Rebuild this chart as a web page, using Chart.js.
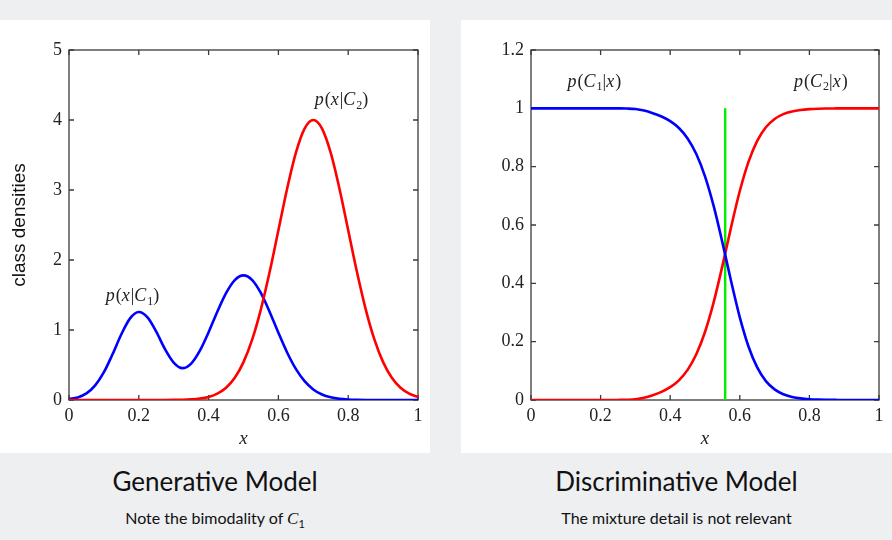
<!DOCTYPE html>
<html>
<head>
<meta charset="utf-8">
<script src="https://cdn.jsdelivr.net/npm/chart.js@4.4.1/dist/chart.umd.min.js"></script>
<style>
  body { margin: 0; width: 892px; height: 540px; background: #eeeff1; position: relative; overflow: hidden; }
  .panel { position: absolute; top: 20px; height: 433px; background: #fff; }
  .title { position: absolute; top: 466px; font-family: Lato, sans-serif; font-size: 26px; line-height: 30px; color: #111; text-align: center; }
  .note { position: absolute; top: 508px; font-family: Lato, sans-serif; font-size: 16px; line-height: 20px; color: #111; text-align: center; }
  .cal { font-family: "Liberation Serif", serif; font-style: italic; font-size: 17px; }
  sub { font-size: 11px; }
</style>
</head>
<body>
<div class="panel" style="left:0;width:430px"><canvas id="genChart" width="430" height="433"></canvas></div>
<div class="panel" style="left:461px;width:431px"><canvas id="discChart" width="431" height="433"></canvas></div>
<div class="title" style="left:0;width:430px">Generative Model</div>
<div class="title" style="left:461px;width:431px">Discriminative Model</div>
<div class="note" style="left:0;width:430px">Note the bimodality of <span class="cal">C</span><sub>1</sub></div>
<div class="note" style="left:461px;width:431px">The mixture detail is not relevant</div>

<script>
const xs = [0, 0.025, 0.05, 0.075, 0.1, 0.125, 0.15, 0.175, 0.2, 0.225,
            0.25, 0.275, 0.3, 0.325, 0.35, 0.375, 0.4, 0.425, 0.45, 0.475,
            0.5, 0.525, 0.55, 0.575, 0.6, 0.625, 0.65, 0.675, 0.7, 0.725,
            0.75, 0.775, 0.8, 0.825, 0.85, 0.875, 0.9, 0.925, 0.95, 0.975, 1];

// left plot: class densities
const densC1 = [0.013, 0.037, 0.094, 0.208, 0.397, 0.656, 0.939, 1.166, 1.257, 1.18,
                0.976, 0.728, 0.535, 0.455, 0.52, 0.705, 0.968, 1.262, 1.527, 1.713,
                1.78, 1.713, 1.526, 1.258, 0.96, 0.679, 0.444, 0.269, 0.151, 0.078,
                0.038, 0.017, 0.007, 0.003, 0.001, 0, 0, 0, 0, 0, 0];
const densC2 = [0, 0, 0, 0, 0, 0, 0, 0, 0, 0,
                0.0002, 0.0005, 0.0013, 0.0035, 0.0088, 0.0203, 0.0444, 0.0912, 0.1757, 0.3184,
                0.5413, 0.865, 1.299, 1.831, 2.426, 3.019, 3.53, 3.877, 4.0, 3.877,
                3.53, 3.019, 2.426, 1.831, 1.299, 0.865, 0.541, 0.318, 0.176, 0.091, 0.044];

// right plot: posteriors
const postC1 = [1, 1, 1, 1, 1, 1, 1, 1, 1, 1,
                0.9998, 0.9993, 0.9976, 0.9924, 0.9834, 0.972, 0.9561, 0.9326, 0.8968, 0.8432,
                0.7668, 0.6645, 0.5402, 0.4073, 0.2835, 0.1836, 0.1117, 0.0649, 0.0364, 0.0197,
                0.0106, 0.0055, 0.0028, 0.0014, 0.0007, 0.0003, 0, 0, 0, 0, 0];
const postC2 = [0, 0, 0, 0, 0, 0, 0, 0, 0, 0,
                0.0002, 0.0007, 0.0024, 0.0076, 0.0166, 0.028, 0.0439, 0.0674, 0.1032, 0.1568,
                0.2332, 0.3355, 0.4598, 0.5927, 0.7165, 0.8164, 0.8883, 0.9351, 0.9636, 0.9803,
                0.9894, 0.9945, 0.9972, 0.9986, 0.9993, 0.9997, 1, 1, 1, 1, 1];

// decision boundary
const boundaryX = [0.558, 0.558];
const boundaryY = [0, 1];

// tick labels
const xTicks = [0, 0.2, 0.4, 0.6, 0.8, 1];
const genYTicks = [0, 1, 2, 3, 4, 5];
const discYTicks = [0, 0.2, 0.4, 0.6, 0.8, 1, 1.2];

// curve labels, in data coordinates
const genLabels = [
  { x: 0.182, y: 1.49, parts: [['p', 'i'], ['(', 'n'], ['x', 'i'], ['|', 'n'], ['C', 'i'], ['1', 's'], [')', 'n']] },
  { x: 0.781, y: 4.29, parts: [['p', 'i'], ['(', 'n'], ['x', 'i'], ['|', 'n'], ['C', 'i'], ['2', 's'], [')', 'n']] }
];
const discLabels = [
  { x: 0.182, y: 1.094, parts: [['p', 'i'], ['(', 'n'], ['C', 'i'], ['1', 's'], ['|', 'n'], ['x', 'i'], [')', 'n']] },
  { x: 0.833, y: 1.094, parts: [['p', 'i'], ['(', 'n'], ['C', 'i'], ['2', 's'], ['|', 'n'], ['x', 'i'], [')', 'n']] }
];

const pts = (xv, yv) => xv.map((x, i) => ({ x: x, y: yv[i] }));

function drawMath(ctx, parts, cx, cy, size) {
  const fonts = {
    i: `italic ${size}px "Liberation Serif"`,
    n: `${size}px "Liberation Serif"`,
    s: `${Math.round(size * 0.68)}px "Liberation Serif"`
  };
  let w = 0;
  parts.forEach(p => { ctx.font = fonts[p[1]]; w += ctx.measureText(p[0]).width + (p[1] === 'i' ? 1 : 0); });
  let px = cx - w / 2;
  ctx.textBaseline = 'alphabetic';
  ctx.textAlign = 'left';
  parts.forEach(p => {
    ctx.font = fonts[p[1]];
    const dy = p[1] === 's' ? size * 0.18 : 0;
    ctx.fillText(p[0], px, cy + size * 0.32 + dy);
    px += ctx.measureText(p[0]).width + (p[1] === 'i' ? 1 : 0);
  });
}

// box frame with inward ticks, plus the curve labels
const framePlugin = {
  id: 'frame',
  beforeDatasetsDraw(chart) {
    const { ctx, chartArea: a, scales: { x, y } } = chart;
    ctx.save();
    ctx.strokeStyle = '#3a3a3a';
    ctx.lineWidth = 1.3;
    ctx.strokeRect(a.left, a.top, a.right - a.left, a.bottom - a.top);
    ctx.beginPath();
    x.ticks.forEach(t => {
      const px = x.getPixelForValue(t.value);
      ctx.moveTo(px, a.bottom); ctx.lineTo(px, a.bottom - 5);
      ctx.moveTo(px, a.top); ctx.lineTo(px, a.top + 5);
    });
    y.ticks.forEach(t => {
      const py = y.getPixelForValue(t.value);
      ctx.moveTo(a.left, py); ctx.lineTo(a.left + 5, py);
      ctx.moveTo(a.right, py); ctx.lineTo(a.right - 5, py);
    });
    ctx.stroke();
    ctx.restore();
  },
  afterDatasetsDraw(chart, args, opts) {
    const { ctx, scales: { x, y } } = chart;
    ctx.save();
    ctx.fillStyle = '#222';
    (opts.labels || []).forEach(l => drawMath(ctx, l.parts, x.getPixelForValue(l.x), y.getPixelForValue(l.y), 18));
    ctx.restore();
  }
};

const tickFont = { family: '"Liberation Serif", serif', size: 18 };

function makeOptions(yTicks, yMax, yTitle, leftW, rightPad, labels) {
  return {
    responsive: false,
    animation: false,
    layout: { padding: { left: 0, right: rightPad, top: 30, bottom: 0 } },
    plugins: { legend: { display: false }, tooltip: { enabled: false }, frame: { labels: labels } },
    elements: { point: { radius: 0 } },
    scales: {
      x: {
        type: 'linear', min: 0, max: 1,
        afterBuildTicks: s => { s.ticks = xTicks.map(v => ({ value: v })); },
        afterFit: s => { s.height = 53; },
        grid: { display: false, drawTicks: false },
        border: { display: false },
        ticks: { font: tickFont, color: '#222', padding: 5, maxRotation: 0, callback: v => String(v) },
        title: { display: true, text: 'x', color: '#222', padding: { top: 0, bottom: 3 },
                 font: { family: '"Liberation Serif", serif', size: 19, style: 'italic' } }
      },
      y: {
        type: 'linear', min: 0, max: yMax,
        afterBuildTicks: s => { s.ticks = yTicks.map(v => ({ value: v })); },
        afterFit: s => { s.width = leftW; },
        grid: { display: false, drawTicks: false },
        border: { display: false },
        ticks: { font: tickFont, color: '#222', padding: 7, callback: v => String(v) },
        title: { display: !!yTitle, text: yTitle, color: '#111', padding: { top: 8, bottom: 0 },
                 font: { family: '"Liberation Sans", Arial, sans-serif', size: 19 } }
      }
    }
  };
}

const line = (data, color, order, width) => ({
  data: data, borderColor: color, borderWidth: width || 2.6, fill: false,
  cubicInterpolationMode: 'monotone', pointRadius: 0, order: order
});

new Chart(document.getElementById('genChart'), {
  type: 'line',
  data: {
    datasets: [
      line(pts(xs, densC2), '#ff0000', 1),
      line(pts(xs, densC1), '#0000ff', 2)
    ]
  },
  options: makeOptions(genYTicks, 5, 'class densities', 69, 12, genLabels),
  plugins: [framePlugin]
});

new Chart(document.getElementById('discChart'), {
  type: 'line',
  data: {
    datasets: [
      line(pts(boundaryX, boundaryY), '#00ee00', 3, 2.4),
      line(pts(xs, postC2), '#ff0000', 2),
      line(pts(xs, postC1), '#0000ff', 1)
    ]
  },
  options: makeOptions(discYTicks, 1.2, '', 70, 13, discLabels),
  plugins: [framePlugin]
});
</script>
</body>
</html>
